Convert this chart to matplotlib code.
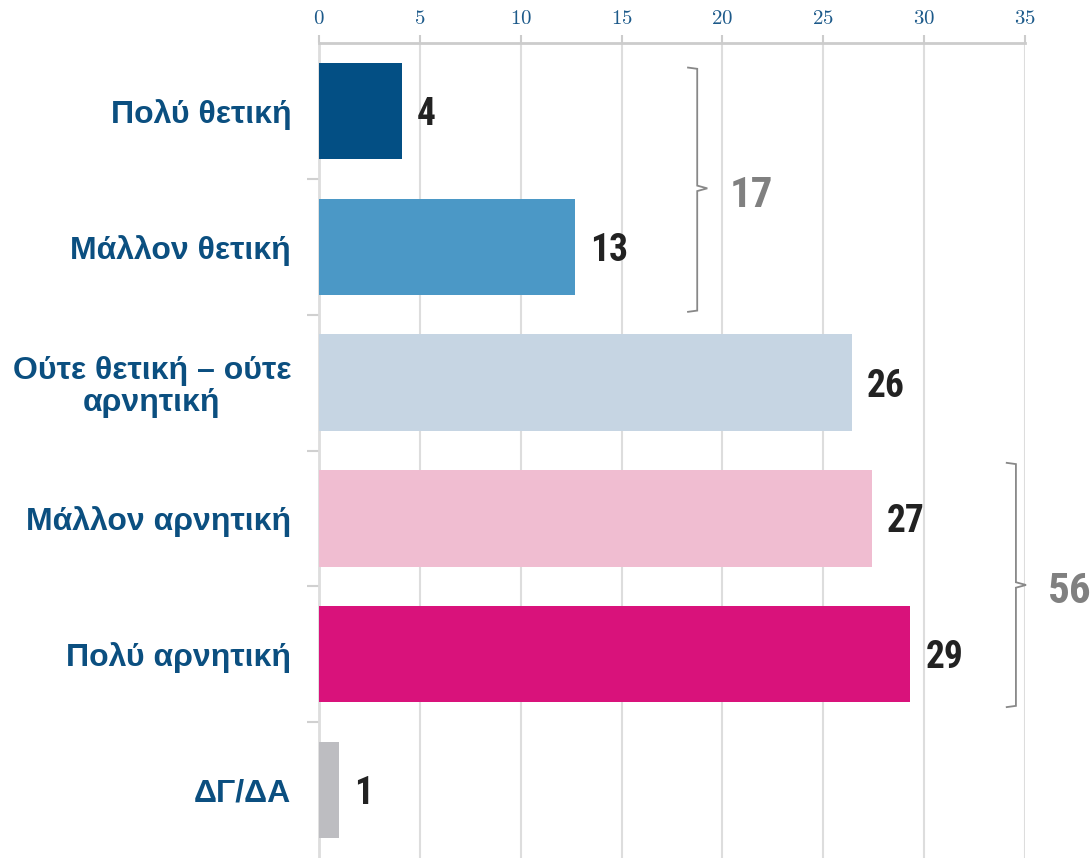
import matplotlib.pyplot as plt
from matplotlib.path import Path
from matplotlib.patches import PathPatch

plt.rcParams['mathtext.fontset'] = 'cm'

categories = ['Πολύ θετική', 'Μάλλον θετική', 'Ούτε θετική – ούτε\nαρνητική',
              'Μάλλον αρνητική', 'Πολύ αρνητική', 'ΔΓ/ΔΑ']
values = [4.1, 12.7, 26.4, 27.4, 29.3, 1.0]
value_labels = ['4', '13', '26', '27', '29', '1']
colors = ['#034f84', '#4b98c6', '#c6d5e3', '#f0bdd1', '#d9127b', '#bdbdc1']
ticks = [0, 5, 10, 15, 20, 25, 30, 35]

# grouped totals: (label, top y, bottom y, middle y)
groups = [('17', -0.32, 1.48, 0.57), ('56', 2.59, 4.39, 3.49)]
group_x = [18.75, 34.55]

narrow = ['Roboto Condensed', 'Roboto', 'DejaVu Sans']

fig = plt.figure(figsize=(10.91, 8.58), dpi=100)
ax = fig.add_axes([319 / 1091, 0.0, (1025 - 319) / 1091, 1 - 43 / 858])

y = list(range(len(categories)))
ax.barh(y, values, height=0.71, color=colors, zorder=3)

for yi, v, lab in zip(y, values, value_labels):
    ax.annotate(lab, (v, yi), xytext=(11, -2.5), textcoords='offset points',
                ha='left', va='center', fontsize=27, fontweight='bold',
                family=narrow, color='#222222')

ax.set_xlim(0, 35)
ax.set_ylim(5.5, -0.5)
ax.set_xticks(ticks)
ax.set_xticklabels([f'${t}$' for t in ticks])
ax.xaxis.tick_top()
ax.tick_params(axis='x', colors='#cccccc', labelcolor='#1d5a8a', labelsize=15,
               length=6, width=1.5, pad=5)
ax.set_yticks(y)
ax.set_yticklabels(categories, fontsize=23, fontweight='bold', color='#0b4f80',
                   family=['Liberation Sans', 'DejaVu Sans'], linespacing=1.1,
                   multialignment='center')
ax.tick_params(axis='y', length=0, pad=20)
# small ticks between categories
ax.set_yticks([i + 0.5 for i in range(len(categories) - 1)], minor=True)
ax.tick_params(axis='y', which='minor', length=9, width=1.5, color='#d0d0d0')

ax.grid(axis='x', color='#dddddd', linewidth=1.5, zorder=0)
for s in ['right', 'bottom']:
    ax.spines[s].set_visible(False)
ax.spines['top'].set_color('#cccccc')
ax.spines['top'].set_linewidth(2)
ax.spines['left'].set_color('#dddddd')
ax.spines['left'].set_linewidth(2)

for (lab, top, bot, mid), gx in zip(groups, group_x):
    hook = 0.5
    verts = [(gx - hook, top), (gx, top + 0.01), (gx, mid - 0.02), (gx + 0.5, mid),
             (gx, mid + 0.02), (gx, bot - 0.01), (gx - hook, bot)]
    codes = [Path.MOVETO] + [Path.LINETO] * 6
    ax.add_patch(PathPatch(Path(verts, codes), fill=False, edgecolor='#888888',
                           linewidth=1.3, clip_on=False, zorder=4))
    ax.text(gx + 1.6, mid + 0.05, lab, ha='left', va='center', fontsize=31,
            fontweight='bold', color='#808080', clip_on=False, family=narrow)

fig.savefig('out.png', dpi=100, facecolor='white')
